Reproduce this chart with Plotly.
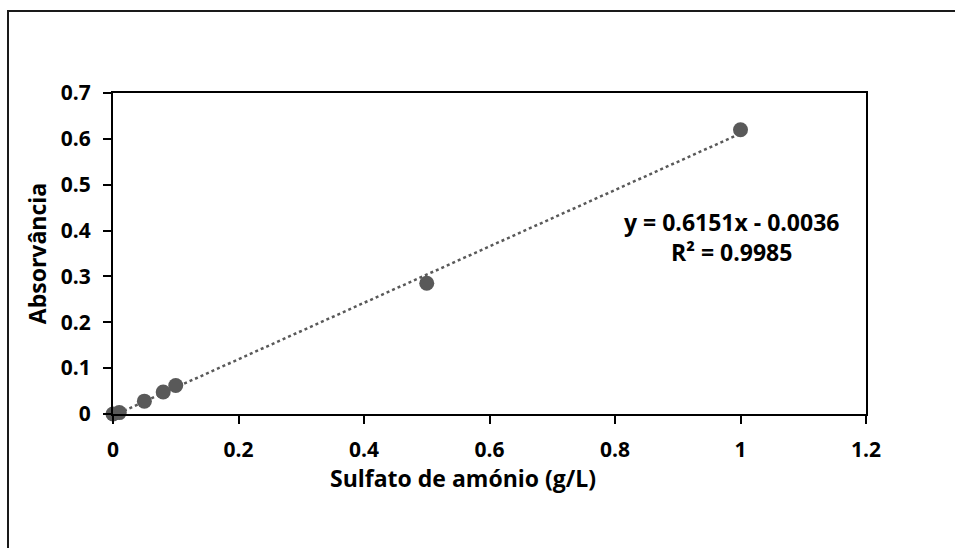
import plotly.graph_objects as go

conc = [0, 0.01, 0.05, 0.08, 0.1, 0.5, 1.0]
absorb = [0, 0.003, 0.028, 0.048, 0.062, 0.285, 0.62]
slope = 0.6151
intercept = -0.0036
trend_x = [0, 1.0]
trend_y = [slope * v + intercept for v in trend_x]

x_ticks = [0, 0.2, 0.4, 0.6, 0.8, 1.0, 1.2]
x_labels = ["0", "0.2", "0.4", "0.6", "0.8", "1", "1.2"]
y_ticks = [0, 0.1, 0.2, 0.3, 0.4, 0.5, 0.6, 0.7]
y_labels = ["0", "0.1", "0.2", "0.3", "0.4", "0.5", "0.6", "0.7"]
x_title = "Sulfato de amónio (g/L)"
y_title = "Absorvância"

FONT = "'Open Sans', Lato, sans-serif"
GRAY = "#595959"
FS = 21
FT = 23

fig = go.Figure()
fig.add_trace(go.Scatter(x=trend_x, y=trend_y, mode="lines",
                         line=dict(color=GRAY, width=2.5, dash="dot"),
                         hoverinfo="skip", showlegend=False))
fig.add_trace(go.Scatter(x=conc, y=absorb, mode="markers",
                         marker=dict(color=GRAY, size=15),
                         showlegend=False, cliponaxis=False))

W, H = 955, 548
L, R, T, B = 113, 89, 93, 134
pw, ph = W - L - R, H - T - B

fig.update_layout(
    width=W, height=H,
    margin=dict(l=L, r=R, t=T, b=B),
    paper_bgcolor="white", plot_bgcolor="white",
    font=dict(family=FONT, size=FS, color="black"),
    xaxis=dict(range=[0, 1.2], tickvals=x_ticks,
               ticktext=["<b>%s</b>" % s for s in x_labels],
               showgrid=False, zeroline=False, showline=True, mirror=True,
               linecolor="black", linewidth=2, ticks="outside", ticklen=8,
               tickwidth=2, tickcolor="black", ticklabelstandoff=8,
               tickfont=dict(family=FONT, size=FS, color="black")),
    yaxis=dict(range=[0, 0.7], tickvals=y_ticks,
               ticktext=["<b>%s</b>" % s for s in y_labels],
               showgrid=False, zeroline=False, showline=True, mirror=True,
               linecolor="black", linewidth=2, ticks="outside", ticklen=8,
               tickwidth=2, tickcolor="black", ticklabelstandoff=8,
               tickfont=dict(family=FONT, size=FS, color="black"),
               title=dict(text="<b>%s</b>" % y_title,
                          font=dict(family=FONT, size=FT), standoff=8)),
    annotations=[
        dict(x=0.985, y=0.386, xref="x", yref="y",
             text="<b>y = 0.6151x - 0.0036<br>R² = 0.9985</b>",
             showarrow=False, align="center",
             font=dict(family=FONT, size=FT, color="black")),
        dict(x=(463 - L) / pw, y=-(478 - T - ph) / ph, xref="paper", yref="paper",
             text="<b>%s</b>" % x_title, showarrow=False,
             xanchor="center", yanchor="middle",
             font=dict(family=FONT, size=FT, color="black")),
    ],
    shapes=[dict(type="rect", xref="paper", yref="paper",
                 x0=(8 - L) / pw, x1=(W + 10 - L) / pw,
                 y0=-(H + 10 - T - ph) / ph, y1=1 + (T - 11) / ph,
                 line=dict(color="#1a1a1a", width=2), layer="below")],
)

fig.write_html("out.html")
